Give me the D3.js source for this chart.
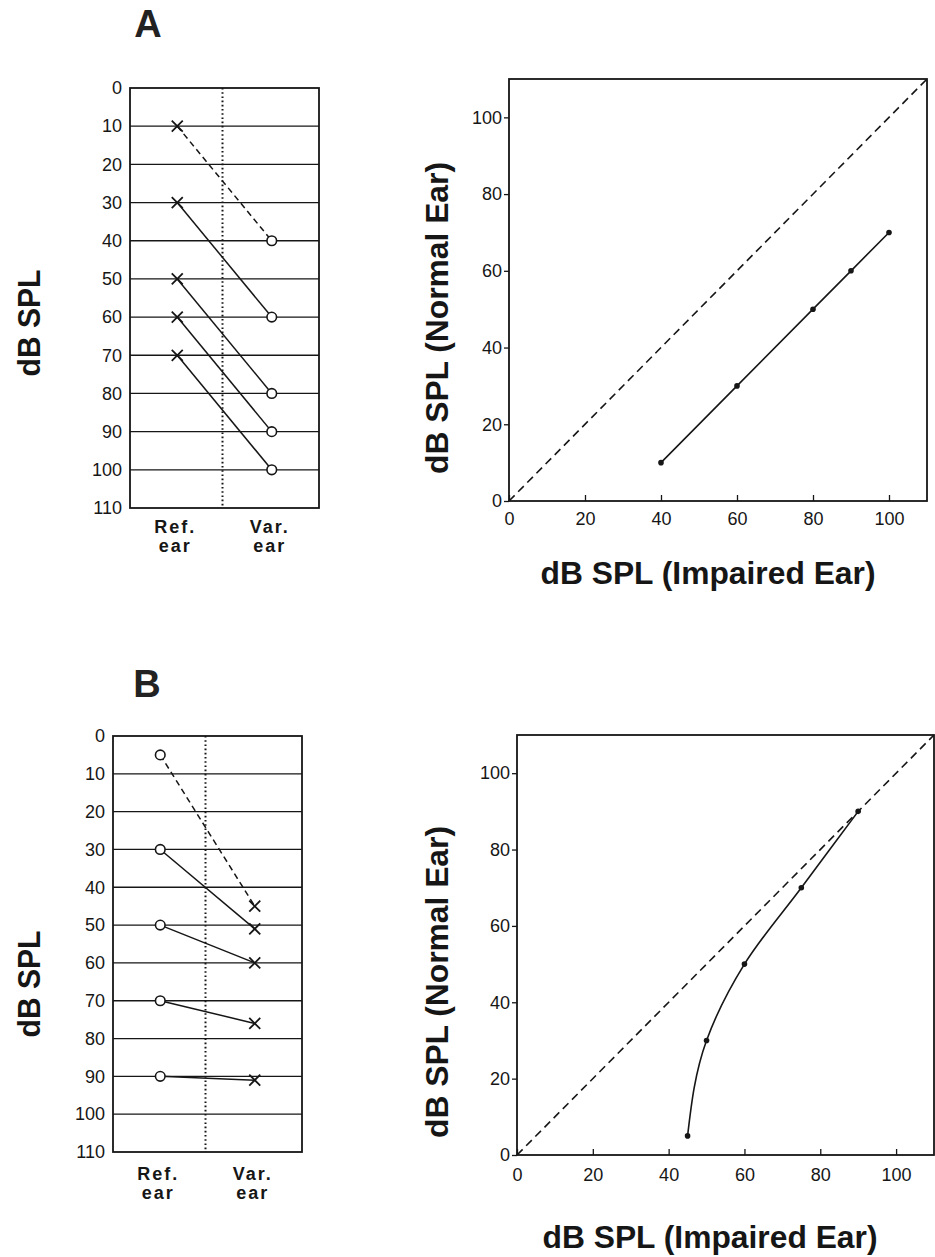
<!DOCTYPE html>
<html>
<head>
<meta charset="utf-8">
<script src="https://cdn.jsdelivr.net/npm/d3@7/dist/d3.min.js"></script>
<style>
  html, body { margin: 0; padding: 0; background: #fff; }
  svg { display: block; font-family: "Liberation Sans", Arial, Helvetica, sans-serif; }
</style>
</head>
<body>
<svg id="chart" width="935" height="1257"></svg>
<script>
// ---------------- data ----------------
const levelTicks = [0, 10, 20, 30, 40, 50, 60, 70, 80, 90, 100, 110];
const gridLevels = [10, 20, 30, 40, 50, 60, 70, 80, 90, 100];
const earCategories = ["Ref. ear", "Var. ear"];

// Panel A (left): reference ear (x) matched to variable ear (o)
const aRefLevels = [10, 30, 50, 60, 70];
const aVarLevels = [40, 60, 80, 90, 100];
const aDashed = [true, false, false, false, false];

// Panel B (left): reference ear (o) matched to variable ear (x)
const bRefLevels = [5, 30, 50, 70, 90];
const bVarLevels = [45, 51, 60, 76, 91];
const bDashed = [true, false, false, false, false];

// Right panels: impaired ear level vs normal ear level
const scatterTicks = [0, 20, 40, 60, 80, 100];
const diagonal = [0, 110];
const aImpaired = [40, 60, 80, 90, 100];
const aNormal = [10, 30, 50, 60, 70];
const bImpaired = [45, 50, 60, 75, 90];
const bNormal = [5, 30, 50, 70, 90];

const panelLetters = ["A", "B"];
const xTitle = "dB SPL (Impaired Ear)";
const yTitle = "dB SPL (Normal Ear)";
const leftTitle = "dB SPL";

// ---------------- drawing ----------------
const svg = d3.select("#chart");
const ink = "#161616";

function drawMarker(g, type, cx, cy) {
  if (type === "x") {
    const s = 5.5;
    g.append("path")
      .attr("d", `M${cx - s},${cy - s}L${cx + s},${cy + s}M${cx - s},${cy + s}L${cx + s},${cy - s}`)
      .attr("stroke", ink).attr("stroke-width", 1.8).attr("fill", "none");
  } else {
    g.append("circle").attr("cx", cx).attr("cy", cy).attr("r", 4.8)
      .attr("fill", "#fff").attr("stroke", ink).attr("stroke-width", 1.6);
  }
}

function leftPanel(cfg) {
  const g = svg.append("g");
  const y = d3.scaleLinear().domain([0, 110]).range([cfg.y0, cfg.y1]);
  const x = d3.scalePoint().domain(earCategories).range([cfg.x0, cfg.x1]).padding(0.5);

  // grid lines
  g.selectAll("line.grid").data(gridLevels).enter().append("line")
    .attr("x1", cfg.x0).attr("x2", cfg.x1)
    .attr("y1", d => y(d)).attr("y2", d => y(d))
    .attr("stroke", ink).attr("stroke-width", 1.3);

  // dotted divider
  const xm = (cfg.x0 + cfg.x1) / 2 - 2;
  g.append("line").attr("x1", xm).attr("x2", xm).attr("y1", cfg.y0).attr("y2", cfg.y1)
    .attr("stroke", ink).attr("stroke-width", 2).attr("stroke-dasharray", "1.6,2.6");

  // frame
  g.append("rect").attr("x", cfg.x0).attr("y", cfg.y0)
    .attr("width", cfg.x1 - cfg.x0).attr("height", cfg.y1 - cfg.y0)
    .attr("fill", "none").attr("stroke", ink).attr("stroke-width", 1.8);

  // y axis
  const ax = g.append("g").attr("transform", `translate(${cfg.x0},0)`)
    .call(d3.axisLeft(y).tickValues(levelTicks).tickSize(0).tickPadding(8));
  ax.select(".domain").remove();
  ax.selectAll("text").attr("font-size", 18).attr("fill", ink)
    .attr("font-family", "'Liberation Sans', Arial, sans-serif");

  // connecting lines
  cfg.ref.forEach((r, i) => {
    g.append("line")
      .attr("x1", x(earCategories[0])).attr("y1", y(r))
      .attr("x2", x(earCategories[1])).attr("y2", y(cfg.vars[i]))
      .attr("stroke", ink).attr("stroke-width", 1.5)
      .attr("stroke-dasharray", cfg.dashed[i] ? "6,4" : null);
  });
  // markers
  cfg.ref.forEach((r, i) => {
    drawMarker(g, cfg.refMarker, x(earCategories[0]), y(r));
    drawMarker(g, cfg.varMarker, x(earCategories[1]), y(cfg.vars[i]));
  });

  // category labels (two lines)
  earCategories.forEach(c => {
    const parts = c.split(" ");
    const t = g.append("text").attr("text-anchor", "middle")
      .attr("font-weight", "bold").attr("font-size", 18).attr("fill", ink)
      .attr("letter-spacing", 2);
    t.append("tspan").attr("x", x(c) - 2).attr("y", cfg.labY1).text(parts[0]);
    t.append("tspan").attr("x", x(c) - 2).attr("y", cfg.labY2).text(parts[1]);
  });

  // panel letter
  g.append("text").attr("x", cfg.letterX).attr("y", cfg.letterY)
    .attr("text-anchor", "middle").attr("font-weight", "bold").attr("font-size", 38)
    .attr("fill", "#222").text(cfg.letter);

  // left title
  g.append("text")
    .attr("transform", `translate(40,${cfg.titleY}) rotate(-90)`)
    .attr("text-anchor", "middle").attr("font-weight", "bold").attr("font-size", 32)
    .attr("textLength", 107).attr("lengthAdjust", "spacingAndGlyphs")
    .attr("fill", ink).text(leftTitle);
}

function rightPanel(cfg) {
  const g = svg.append("g");
  const x = d3.scaleLinear().domain([0, 110]).range([cfg.x0, cfg.x1]);
  const y = d3.scaleLinear().domain([0, 110]).range([cfg.y1, cfg.y0]);

  // frame
  g.append("rect").attr("x", cfg.x0).attr("y", cfg.y0)
    .attr("width", cfg.x1 - cfg.x0).attr("height", cfg.y1 - cfg.y0)
    .attr("fill", "none").attr("stroke", ink).attr("stroke-width", 1.8);

  // axes
  const xa = g.append("g").attr("transform", `translate(0,${cfg.y1})`)
    .call(d3.axisBottom(x).tickValues(scatterTicks).tickSizeInner(-6).tickSizeOuter(0).tickPadding(cfg.xPad));
  xa.select(".domain").remove();
  xa.selectAll("line").attr("stroke", ink).attr("stroke-width", 1.3);
  xa.selectAll("text").attr("font-size", 18).attr("fill", ink)
    .attr("font-family", "'Liberation Sans', Arial, sans-serif");

  const ya = g.append("g").attr("transform", `translate(${cfg.x0},0)`)
    .call(d3.axisLeft(y).tickValues(scatterTicks).tickSizeInner(5).tickSizeOuter(0).tickPadding(2));
  ya.select(".domain").remove();
  ya.selectAll("line").attr("stroke", ink).attr("stroke-width", 1.3);
  ya.selectAll("text").attr("font-size", 18).attr("fill", ink)
    .attr("font-family", "'Liberation Sans', Arial, sans-serif");

  // diagonal
  g.append("line")
    .attr("x1", x(diagonal[0])).attr("y1", y(diagonal[0]))
    .attr("x2", x(diagonal[1])).attr("y2", y(diagonal[1]))
    .attr("stroke", ink).attr("stroke-width", 1.6).attr("stroke-dasharray", "8,5");

  // data line
  const pts = cfg.xs.map((v, i) => [v, cfg.ys[i]]);
  const line = d3.line().x(d => x(d[0])).y(d => y(d[1])).curve(cfg.curve);
  g.append("path").attr("d", line(pts)).attr("fill", "none")
    .attr("stroke", ink).attr("stroke-width", 1.6);
  g.selectAll("circle.pt").data(pts).enter().append("circle")
    .attr("cx", d => x(d[0])).attr("cy", d => y(d[1])).attr("r", 2.8).attr("fill", ink);

  // titles
  g.append("text").attr("x", cfg.xTitleX).attr("y", cfg.xTitleY)
    .attr("text-anchor", "middle").attr("font-weight", "bold").attr("font-size", 32)
    .attr("textLength", 335).attr("lengthAdjust", "spacingAndGlyphs")
    .attr("fill", ink).text(xTitle);
  g.append("text")
    .attr("transform", `translate(448,${cfg.yTitleY}) rotate(-90)`)
    .attr("text-anchor", "middle").attr("font-weight", "bold").attr("font-size", 32)
    .attr("textLength", 312).attr("lengthAdjust", "spacingAndGlyphs")
    .attr("fill", ink).text(yTitle);
}

leftPanel({
  x0: 130, x1: 319, y0: 88, y1: 508,
  ref: aRefLevels, vars: aVarLevels, dashed: aDashed,
  refMarker: "x", varMarker: "o",
  labY1: 533, labY2: 552,
  letter: panelLetters[0], letterX: 148, letterY: 37,
  titleY: 323
});
rightPanel({
  x0: 509, x1: 927, y0: 79, y1: 501,
  xs: aImpaired, ys: aNormal, curve: d3.curveLinear,
  xPad: 11, xTitleX: 708, xTitleY: 584, yTitleY: 318
});

leftPanel({
  x0: 113, x1: 302, y0: 736, y1: 1152,
  ref: bRefLevels, vars: bVarLevels, dashed: bDashed,
  refMarker: "o", varMarker: "x",
  labY1: 1180, labY2: 1199,
  letter: panelLetters[1], letterX: 147, letterY: 697,
  titleY: 984
});
rightPanel({
  x0: 517, x1: 934, y0: 735, y1: 1155,
  xs: bImpaired, ys: bNormal, curve: d3.curveMonotoneY,
  xPad: 13, xTitleX: 710, xTitleY: 1248, yTitleY: 982
});
</script>
</body>
</html>
